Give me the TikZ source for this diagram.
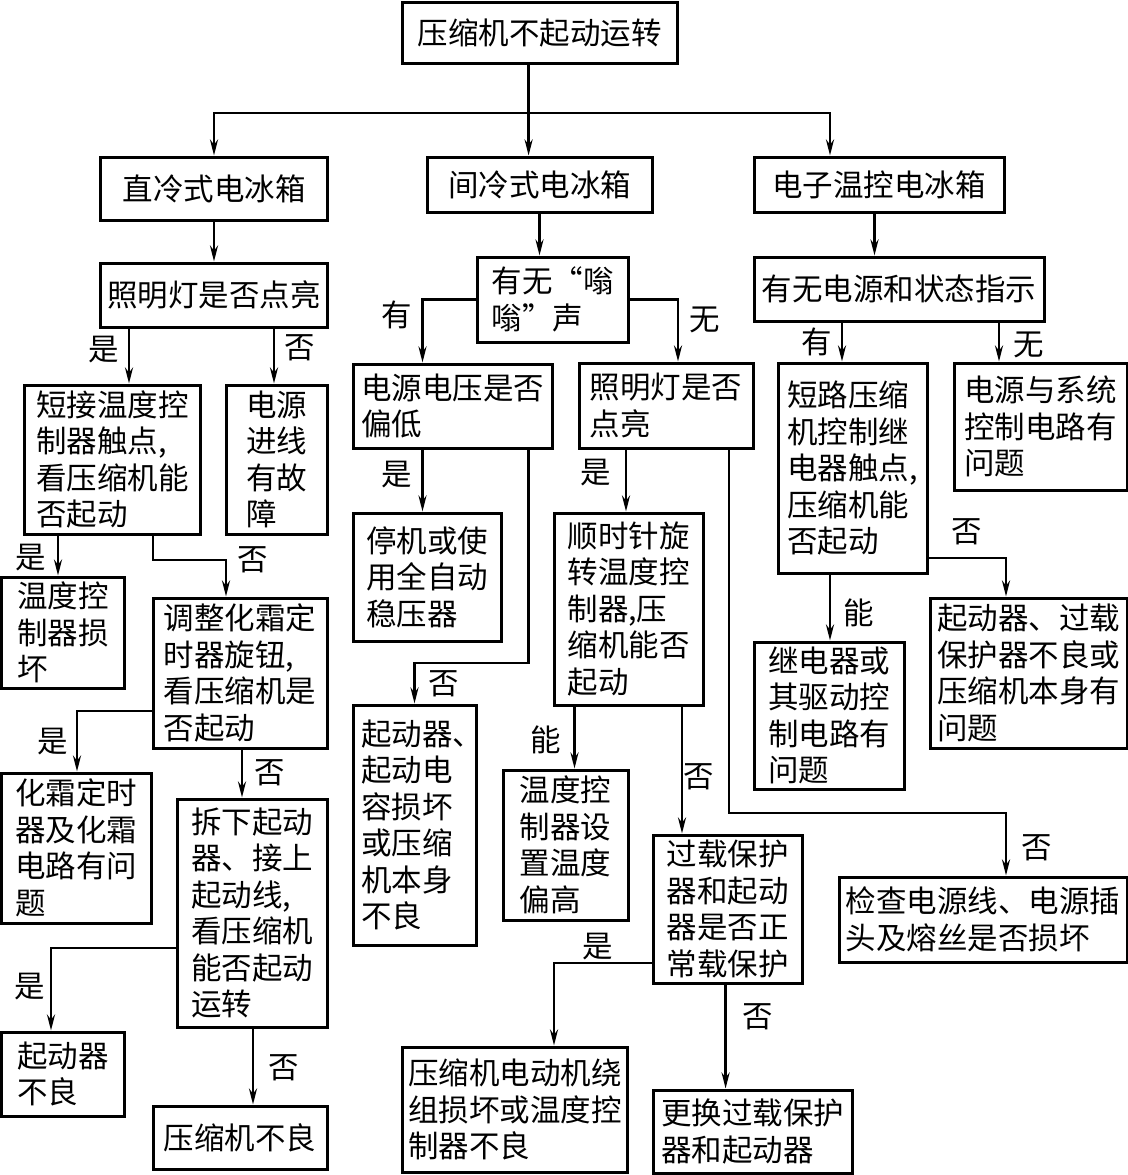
\documentclass[tikz,border=0pt]{standalone}
\usepackage{fontspec}
\setmainfont{Noto Sans CJK SC}
\usetikzlibrary{arrows.meta}
\newcommand\myoq{\makebox[1em][r]{“}}
\newcommand\mycq{\makebox[1em][l]{”}}
\newcommand\mydun{\makebox[0.5em][l]{、}}
\begin{document}
\begin{tikzpicture}[x=1bp,y=-1bp,
  box/.style={draw, line width=3bp, align=left, inner sep=0pt, font=\fontsize{30.5bp}{36.5bp}\selectfont},
  lab/.style={inner sep=0pt, font=\fontsize{30.5bp}{36.5bp}\selectfont},
  conn/.style={line width=2.6bp, -{Stealth[length=16bp,width=8bp]}},
  wire/.style={line width=2.6bp}]
\useasboundingbox (0,0) rectangle (1128,1175);
\fill[white] (0,0) rectangle (1128,1175);
% boxes
\node[box, minimum width=275bp, minimum height=61bp] (root) at (539.5,32.5) {压缩机不起动运转};
\node[box, minimum width=226bp, minimum height=63bp] (zl) at (214,188.5) {直冷式电冰箱};
\node[box, minimum width=225bp, minimum height=55bp] (jl) at (539.5,184.5) {间冷式电冰箱};
\node[box, minimum width=250bp, minimum height=55bp] (dz) at (879,184.5) {电子温控电冰箱};
\node[box, minimum width=226bp, minimum height=64bp] (zm1) at (214,295) {照明灯是否点亮};
\node[box, minimum width=151bp, minimum height=85bp] (wn) at (552.5,299.5) {有无\myoq 嗡\\嗡\mycq 声};
\node[box, minimum width=290bp, minimum height=64bp] (ydyy) at (899,289) {有无电源和状态指示};
\node[box, minimum width=175bp, minimum height=149bp] (dj) at (112.5,459.5) {短接温度控\\制器触点,\\看压缩机能\\否起动};
\node[box, minimum width=101bp, minimum height=149bp] (dyjx) at (276.5,459.5) {电源\\进线\\有故\\障};
\node[box, minimum width=199bp, minimum height=84bp] (dyy) at (452.5,406) {电源电压是否\\偏低};
\node[box, minimum width=174bp, minimum height=85bp] (zm2) at (666,405.5) {照明灯是否\\点亮};
\node[box, minimum width=149bp, minimum height=210bp] (dl) at (852.5,468) {短路压缩\\机控制继\\电器触点,\\压缩机能\\否起动};
\node[box, minimum width=173bp, minimum height=127bp] (dyxt) at (1040.5,426.5) {电源与系统\\控制电路有\\问题};
\node[box, minimum width=122.5bp, minimum height=111bp] (wdk) at (62.75,632.5) {温度控\\制器损\\坏};
\node[box, minimum width=174bp, minimum height=150bp] (tz) at (240,673) {调整化霜定\\时器旋钮,\\看压缩机是\\否起动};
\node[box, minimum width=148bp, minimum height=128bp] (tj) at (427,577) {停机或使\\用全自动\\稳压器};
\node[box, minimum width=123bp, minimum height=240bp] (qdq) at (414.5,825) {起动器\mydun\\起动电\\容损坏\\或压缩\\机本身\\不良};
\node[box, minimum width=149bp, minimum height=192bp] (zs) at (628.5,609) {顺时针旋\\转温度控\\制器,压\\缩机能否\\起动};
\node[box, minimum width=150bp, minimum height=147bp] (jdq) at (829,715.5) {继电器或\\其驱动控\\制电路有\\问题};
\node[box, minimum width=197bp, minimum height=150bp] (qdgz) at (1028.5,673) {起动器、过载\\保护器不良或\\压缩机本身有\\问题};
\node[box, minimum width=149.5bp, minimum height=150bp] (hs) at (76.25,848) {化霜定时\\器及化霜\\电路有问\\题};
\node[box, minimum width=150bp, minimum height=228bp] (cx) at (252,913) {拆下起动\\器、接上\\起动线,\\看压缩机\\能否起动\\运转};
\node[box, minimum width=125bp, minimum height=150bp] (wdsz) at (565.5,845) {温度控\\制器设\\置温度\\偏高};
\node[box, minimum width=149.5bp, minimum height=148bp] (gz) at (727.75,909) {过载保护\\器和起动\\器是否正\\常载保护};
\node[box, minimum width=288bp, minimum height=85bp] (jc) at (983,919.5) {检查电源线、电源插\\头及熔丝是否损坏};
\node[box, minimum width=122.5bp, minimum height=84bp] (qdbl) at (62.75,1074) {起动器\\不良};
\node[box, minimum width=174bp, minimum height=63bp] (ysbl) at (240,1137.5) {压缩机不良};
\node[box, minimum width=224.5bp, minimum height=125bp] (ysdj) at (514.75,1109.5) {压缩机电动机绕\\组损坏或温度控\\制器不良};
\node[box, minimum width=199bp, minimum height=83bp] (gh) at (752.5,1131.5) {更换过载保护\\器和起动器};
% helper coordinates
\coordinate (s0) at (528.6,113);
\coordinate (s1) at (214,113);
\coordinate (s2) at (830,113);
\coordinate (xb) at (874.5,0);
\coordinate (xc) at (129,0);
\coordinate (xd) at (274,0);
\coordinate (xe) at (422.5,0);
\coordinate (xf) at (678,0);
\coordinate (xg) at (842,0);
\coordinate (xh) at (999,0);
\coordinate (xi) at (58,0);
\coordinate (b1) at (153,560);
\coordinate (xj) at (226,0);
\coordinate (b2) at (77,711);
\coordinate (xk) at (242,0);
\coordinate (b3) at (51,948);
\coordinate (xl) at (253,0);
\coordinate (b4) at (528.6,663);
\coordinate (xm) at (626,0);
\coordinate (b5) at (729,813);
\coordinate (xn) at (1006,0);
\coordinate (xo) at (574.5,0);
\coordinate (xp) at (682,0);
\coordinate (b6) at (554,963);
\coordinate (xq) at (725.6,0);
\coordinate (xr) at (830,0);
\coordinate (b7) at (1006,558);
% connectors
\draw[wire] (root.south -| s0) -- (s0);
\draw[conn] (s0) -- (s1) -- (zl.north);
\draw[conn] (s0) -- (jl.north -| s0);
\draw[conn] (s0) -- (s2) -- (dz.north -| s2);
\draw[conn] (zl.south) -- (zm1.north);
\draw[conn] (jl.south) -- (jl.south |- wn.north);
\draw[conn] (dz.south -| xb) -- (ydyy.north -| xb);
\draw[conn] (zm1.south -| xc) -- (dj.north -| xc);
\draw[conn] (zm1.south -| xd) -- (dyjx.north -| xd);
\draw[conn] (wn.west) -| (dyy.north -| xe);
\draw[conn] (wn.east) -| (zm2.north -| xf);
\draw[conn] (ydyy.south -| xg) -- (dl.north -| xg);
\draw[conn] (ydyy.south -| xh) -- (dyxt.north -| xh);
\draw[conn] (dj.south -| xi) -- (wdk.north -| xi);
\draw[conn] (dj.south -| b1) -- (b1) -| (tz.north -| xj);
\draw[conn] (tz.west |- b2) -- (b2) -- (hs.north -| b2);
\draw[conn] (tz.south -| xk) -- (cx.north -| xk);
\draw[conn] (cx.west |- b3) -- (b3) -- (qdbl.north -| b3);
\draw[conn] (cx.south -| xl) -- (ysbl.north -| xl);
\draw[conn] (dyy.south -| xe) -- (tj.north -| xe);
\draw[conn] (dyy.south -| b4) -- (b4) -| (qdq.north);
\draw[conn] (zm2.south -| xm) -- (zs.north -| xm);
\draw[conn] (zm2.south -| b5) -- (b5) -| (jc.north -| xn);
\draw[conn] (zs.south -| xo) -- (wdsz.north -| xo);
\draw[conn] (zs.south -| xp) -- (gz.north -| xp);
\draw[conn] (gz.west |- b6) -- (b6) -- (ysdj.north -| b6);
\draw[conn] (gz.south -| xq) -- (gh.north -| xq);
\draw[conn] (dl.south -| xr) -- (jdq.north -| xr);
\draw[conn] (dl.east |- b7) -- (b7) -- (qdgz.north -| b7);
% labels
\node[lab] (l1) at (104,350) {是};
\node[lab] (l2) at (300,348) {否};
\node[lab] (l3) at (397,315) {有};
\node[lab] (l4) at (705,320) {无};
\node[lab] (l5) at (817,342) {有};
\node[lab] (l6) at (1029,345) {无};
\node[lab] (l7) at (31,558) {是};
\node[lab] (l8) at (253,560) {否};
\node[lab] (l9) at (53,742) {是};
\node[lab] (l10) at (270,773) {否};
\node[lab] (l11) at (30,987) {是};
\node[lab] (l12) at (284,1068) {否};
\node[lab] (l13) at (397,475) {是};
\node[lab] (l14) at (444,684) {否};
\node[lab] (l15) at (596,473) {是};
\node[lab] (l16) at (1037,848) {否};
\node[lab] (l17) at (546,740) {能};
\node[lab] (l18) at (699,777) {否};
\node[lab] (l19) at (859,613) {能};
\node[lab] (l20) at (967,532) {否};
\node[lab] (l21) at (598,947) {是};
\node[lab] (l22) at (757.5,1017) {否};
\end{tikzpicture}
\end{document}
